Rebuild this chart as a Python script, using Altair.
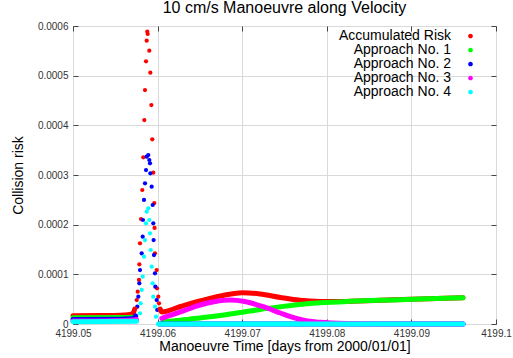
import altair as alt
import pandas as pd

# ---------------- data ----------------
series_names = ["Accumulated Risk", "Approach No. 1", "Approach No. 2",
                "Approach No. 3", "Approach No. 4"]
series_colors = ["#ff0000", "#00ff00", "#0000ff", "#ff00ff", "#00ffff"]

x_tick_values = [4199.05, 4199.06, 4199.07, 4199.08, 4199.09, 4199.1]
y_tick_values = [0.0, 0.0001, 0.0002, 0.0003, 0.0004, 0.0005, 0.0006]

RISK_UNIT = 1e-4  # risk values below are given in units of 1e-4

# smooth parts before the spike
acc_pre_t = [4199.05, 4199.0532, 4199.0556, 4199.0567, 4199.0571, 4199.0573]
acc_pre_r = [0.167, 0.171, 0.177, 0.191, 0.221, 0.302]
app1_pre_t = [4199.05, 4199.0556, 4199.0572]
app1_pre_r = [0.125, 0.129, 0.137]
app2_pre_t = [4199.05, 4199.0556, 4199.0571, 4199.0574]
app2_pre_r = [0.091, 0.095, 0.111, 0.161]
app3_pre_t = [4199.05, 4199.0532, 4199.0562, 4199.0575]
app3_pre_r = [0.062, 0.062, 0.070, 0.090]
app4_pre_t = [4199.05, 4199.0575]
app4_pre_r = [0.045, 0.055]

# smooth parts after the spike
acc_post_t = [4199.0603, 4199.0605, 4199.0627, 4199.065, 4199.0674, 4199.07,
              4199.0721, 4199.0745, 4199.0768, 4199.0792, 4199.0816, 4199.0863,
              4199.091, 4199.0961]
acc_post_r = [0.302, 0.242, 0.352, 0.463, 0.564, 0.630, 0.604, 0.534, 0.477,
              0.453, 0.451, 0.477, 0.503, 0.527]
app1_post_t = [4199.0606, 4199.0627, 4199.065, 4199.0674, 4199.07, 4199.0721,
               4199.0745, 4199.0768, 4199.0792, 4199.0827, 4199.0863, 4199.091,
               4199.0961]
app1_post_r = [0.046, 0.077, 0.121, 0.171, 0.236, 0.292, 0.346, 0.393, 0.427,
               0.457, 0.477, 0.503, 0.527]
app2_post_t = [4199.0602, 4199.0961]
app2_post_r = [0.0, 0.0]
app3_post_t = [4199.0605, 4199.0627, 4199.065, 4199.0668, 4199.0686, 4199.0703,
               4199.0725, 4199.0745, 4199.0757, 4199.0774, 4199.0792, 4199.0827,
               4199.0863, 4199.0961]
app3_post_r = [0.115, 0.242, 0.383, 0.453, 0.483, 0.453, 0.348, 0.221, 0.147,
               0.070, 0.034, 0.008, 0.0, 0.0]
app4_post_t = [4199.0601, 4199.0961]
app4_post_r = [0.0, 0.0]

# individual samples in the spike
acc_spike_t = [4199.05753, 4199.05765, 4199.0578, 4199.05784, 4199.05792,
               4199.05804, 4199.05819, 4199.05831, 4199.05843, 4199.05851,
               4199.05863, 4199.05871, 4199.05878, 4199.05883, 4199.05902,
               4199.05914, 4199.05926, 4199.05937, 4199.05949, 4199.05961,
               4199.05964, 4199.05969, 4199.05989, 4199.05993, 4199.06008,
               4199.06017]
acc_spike_r = [0.483, 0.650, 0.886, 1.202, 1.625, 2.114, 2.698, 3.356, 4.107,
               4.711, 5.289, 5.704, 5.885, 5.839, 5.502, 5.059, 4.409, 3.719,
               3.046, 2.436, 1.933, 1.423, 1.087, 0.719, 0.550, 0.417]
app2_spike_t = [4199.0576, 4199.05772, 4199.05784, 4199.05792, 4199.05812,
                4199.05824, 4199.05827, 4199.05839, 4199.05851, 4199.05863,
                4199.05871, 4199.0589, 4199.05902, 4199.0591, 4199.05914,
                4199.0593, 4199.05942, 4199.05949, 4199.05953, 4199.05957,
                4199.05969, 4199.05973, 4199.05989, 4199.05996]
app2_spike_r = [0.348, 0.550, 0.819, 1.087, 1.423, 1.758, 2.094, 2.497, 2.833,
                3.100, 3.368, 3.402, 3.302, 3.235, 3.034, 2.764, 2.396, 2.027,
                1.691, 1.389, 1.021, 0.751, 0.483, 0.282]
app4_spike_t = [4199.05792, 4199.058, 4199.05812, 4199.05824, 4199.05839,
                4199.05851, 4199.05863, 4199.05871, 4199.0589, 4199.05902,
                4199.0591, 4199.05918, 4199.0593, 4199.05942, 4199.05949,
                4199.05969, 4199.05981]
app4_spike_r = [0.215, 0.417, 0.685, 0.952, 1.355, 1.691, 2.027, 2.261, 2.329,
                2.094, 1.826, 1.490, 1.154, 0.819, 0.550, 0.348, 0.147]


def table(parts):
    rows = []
    for name, ts, rs in parts:
        for t, r in zip(ts, rs):
            rows.append({"t": t, "risk": r * RISK_UNIT, "series": name})
    return pd.DataFrame(rows)


pre_df = table([
    (series_names[0], acc_pre_t, acc_pre_r),
    (series_names[1], app1_pre_t, app1_pre_r),
    (series_names[2], app2_pre_t, app2_pre_r),
    (series_names[3], app3_pre_t, app3_pre_r),
    (series_names[4], app4_pre_t, app4_pre_r),
])
post_df = table([
    (series_names[0], acc_post_t, acc_post_r),
    (series_names[1], app1_post_t, app1_post_r),
    (series_names[2], app2_post_t, app2_post_r),
    (series_names[3], app3_post_t, app3_post_r),
    (series_names[4], app4_post_t, app4_post_r),
])
spike_df = table([
    (series_names[0], acc_spike_t, acc_spike_r),
    (series_names[2], app2_spike_t, app2_spike_r),
    (series_names[4], app4_spike_t, app4_spike_r),
])

# ---------------- chart ----------------
FONT = "Liberation Sans"
x_scale = alt.Scale(domain=[4199.05, 4199.1], nice=False, zero=False)
y_scale = alt.Scale(domain=[0, 0.0006], nice=False, zero=False)
color_scale = alt.Scale(domain=series_names, range=series_colors)

x_main = alt.Axis(orient="bottom", values=x_tick_values, format=".2~f",
                  grid=True, gridColor="#d9d9d9", ticks=False, tickSize=0,
                  domain=False, labelPadding=4, labelFlush=False,
                  labelOverlap=False, labelFont=FONT, labelFontSize=10,
                  labelColor="#333333",
                  title="Manoeuvre Time [days from 2000/01/01]",
                  titleFont=FONT, titleFontSize=14, titleFontWeight="normal",
                  titleColor="#000000", titlePadding=1)
y_main = alt.Axis(orient="left", values=y_tick_values, format=".4~f",
                  grid=True, gridColor="#d9d9d9", ticks=False, tickSize=0,
                  domain=False, labelPadding=5, labelFlush=False,
                  labelOverlap=False, labelFont=FONT, labelFontSize=10,
                  labelColor="#333333", title="Collision risk",
                  titleFont=FONT, titleFontSize=14, titleFontWeight="normal",
                  titleColor="#000000", titlePadding=12)


def tick_axis(orient, values):
    return alt.Axis(orient=orient, values=values, offset=-5, tickSize=5,
                    ticks=True, tickColor="#444444", labels=False,
                    domain=False, grid=False, title=None)


# legend symbol: a dot drawn to the right of its label (gnuplot style key)
KEY_DOT = "M 10.3 0 A 1 1 0 1 1 12.3 0 A 1 1 0 1 1 10.3 0 Z"


def legend_def():
    return alt.Legend(title=None, orient="none", legendX=364, legendY=3,
                      labelAlign="right", labelOffset=0, symbolOffset=0,
                      labelFont=FONT, labelFontSize=14, labelColor="#000000",
                      symbolType=KEY_DOT, symbolSize=22, symbolStrokeWidth=0,
                      rowPadding=0, padding=0, labelLimit=300)


spike_layer = alt.Chart(spike_df).mark_circle(size=18, opacity=1).encode(
    x=alt.X("t:Q", scale=x_scale, axis=tick_axis("top", x_tick_values)),
    y=alt.Y("risk:Q", scale=y_scale, axis=tick_axis("right", y_tick_values)),
    color=alt.Color("series:N", scale=color_scale, legend=legend_def()),
)

pre_layer = alt.Chart(pre_df).mark_line(
    strokeWidth=5, strokeCap="round", strokeJoin="round",
    interpolate="monotone"
).encode(
    x=alt.X("t:Q", scale=x_scale, axis=x_main),
    y=alt.Y("risk:Q", scale=y_scale, axis=y_main),
    color=alt.Color("series:N", scale=color_scale, legend=legend_def()),
)

post_layer = alt.Chart(post_df).mark_line(
    strokeWidth=5, strokeCap="round", strokeJoin="round",
    interpolate="monotone"
).encode(
    x=alt.X("t:Q", scale=x_scale, axis=tick_axis("bottom", x_tick_values)),
    y=alt.Y("risk:Q", scale=y_scale, axis=tick_axis("left", y_tick_values)),
    color=alt.Color("series:N", scale=color_scale, legend=legend_def()),
)

chart = alt.layer(spike_layer, pre_layer, post_layer).resolve_axis(
    x="independent", y="independent"
).properties(
    width=423,
    height=298,
    title=alt.TitleParams("10 cm/s Manoeuvre along Velocity", font=FONT,
                          fontSize=16, fontWeight="normal", color="#000000",
                          offset=5, anchor="middle"),
    padding={"left": 73, "top": 26, "right": 17, "bottom": 34},
    autosize=alt.AutoSizeParams(type="none"),
    background="#ffffff",
).configure_view(stroke="#333333", strokeWidth=1)

chart.save("out.html", embed_options={"renderer": "svg", "actions": False})
